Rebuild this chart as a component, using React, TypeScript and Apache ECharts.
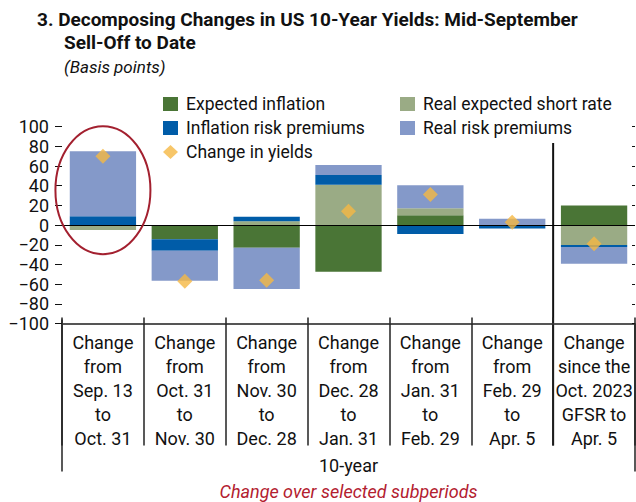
import React, { useEffect, useRef } from 'react';
import * as echarts from 'echarts';

const categories = [
  'Change\nfrom\nSep. 13\nto\nOct. 31',
  'Change\nfrom\nOct. 31\nto\nNov. 30',
  'Change\nfrom\nNov. 30\nto\nDec. 28',
  'Change\nfrom\nDec. 28\nto\nJan. 31',
  'Change\nfrom\nJan. 31\nto\nFeb. 29',
  'Change\nfrom\nFeb. 29\nto\nApr. 5',
  'Change\nsince the\nOct. 2023\nGFSR to\nApr. 5',
];

const expectedInflation = [0, -14.5, -23, -47.5, 10, 0, 20];
const realExpectedShortRate = [-5, 0, 4, 41, 7, 0, -20.3];
const inflationRiskPremiums = [9, -11.5, 4.5, 10, -9, -3.5, -2];
const realRiskPremiums = [66, -30.5, -42, 10, 23.5, 6.5, -17];
const changeInYields = [70, -57, -56, 14, 31, 3, -19];

const yMin = -100;
const yMax = 100;
const yInterval = 20;

const FONT = 'Roboto, "Liberation Sans", sans-serif';

const C_EI = '#4a7536';
const C_RESR = '#9aab85';
const C_IRP = '#005ca8';
const C_RRP = '#8499c9';
const C_DIAMOND = '#f5b843';

export default function App() {
  const ref = useRef<HTMLDivElement>(null);

  useEffect(() => {
    document.body.style.margin = '0';
    if (!ref.current) return;
    const chart = echarts.init(ref.current, undefined, { renderer: 'svg' });

    const gridLeft = 62;
    const gridRight = 1;
    const gridTop = 126.7;
    const gridBottom = 178.5;

    const minus = (v: number) => String(v).replace('-', '\u2212');

    const legendText = { fontFamily: FONT, fontSize: 17.5, color: '#111', lineHeight: 20, padding: [0, 0, 0, 3] };

    chart.setOption({
      animation: false,
      backgroundColor: '#fff',
      textStyle: { fontFamily: FONT },
      title: [
        { text: '3. Decomposing Changes in US 10-Year Yields: Mid-September', left: 37, top: 10, padding: 0, textStyle: { fontFamily: FONT, fontSize: 19, fontWeight: 'bold', color: '#111' } },
        { text: 'Sell-Off to Date', left: 64, top: 33, padding: 0, textStyle: { fontFamily: FONT, fontSize: 19, fontWeight: 'bold', color: '#111' } },
        { text: '(Basis points)', left: 64, top: 58, padding: 0, textStyle: { fontFamily: FONT, fontSize: 17, fontStyle: 'italic', fontWeight: 'normal', color: '#111' } },
      ],
      legend: [
        {
          data: [
            { name: 'Expected inflation', icon: 'rect' },
            { name: 'Inflation risk premiums', icon: 'rect' },
            { name: 'Change in yields', icon: 'diamond' },
          ],
          orient: 'vertical', left: 163, top: 94, padding: 0, itemWidth: 15, itemHeight: 14, itemGap: 4,
          textStyle: legendText, selectedMode: false,
        },
        {
          data: [
            { name: 'Real expected short rate', icon: 'rect' },
            { name: 'Real risk premiums', icon: 'rect' },
          ],
          orient: 'vertical', left: 400, top: 94, padding: 0, itemWidth: 15, itemHeight: 14, itemGap: 4,
          textStyle: legendText, selectedMode: false,
        },
      ],
      grid: { left: gridLeft, right: gridRight, top: gridTop, bottom: gridBottom, containLabel: false },
      xAxis: [
        {
          type: 'category',
          data: categories,
          position: 'bottom',
          axisLine: { show: true, onZero: false, lineStyle: { color: '#555', width: 2 } },
          axisTick: { show: true, length: 122, lineStyle: { color: '#222', width: 1.5 } },
          axisLabel: { fontFamily: FONT, fontSize: 18, color: '#111', lineHeight: 24, margin: 7, interval: 0 },
        },
        {
          type: 'category',
          data: categories,
          position: 'bottom',
          axisLine: { show: false, onZero: false },
          axisTick: { show: true, inside: true, length: 6, lineStyle: { color: '#222', width: 1.5 } },
          axisLabel: { show: false },
        },
      ],
      yAxis: [
        {
          type: 'value', min: yMin, max: yMax, interval: yInterval,
          axisLine: { show: false },
          axisTick: { show: true, length: 7, lineStyle: { color: '#111', width: 1 } },
          axisLabel: { fontFamily: FONT, fontSize: 18, lineHeight: 16, color: '#111', margin: 13, showMinLabel: true, showMaxLabel: true, hideOverlap: false, formatter: (v: number) => minus(v) },
          splitLine: { show: false },
        },
        {
          type: 'value', min: yMin, max: yMax, interval: yInterval, position: 'right',
          axisLine: { show: false },
          axisTick: { show: true, inside: true, length: 3, lineStyle: { color: '#111', width: 1 } },
          axisLabel: { show: false },
          splitLine: { show: false },
        },
      ],
      series: [
        { name: 'Expected inflation', type: 'bar', stack: 'a', data: expectedInflation, itemStyle: { color: C_EI }, barCategoryGap: '19%',
          markLine: { silent: true, symbol: 'none', label: { show: false }, lineStyle: { color: '#000', width: 1, type: 'solid' }, data: [{ yAxis: 0 }] } },
        { name: 'Real expected short rate', type: 'bar', stack: 'a', data: realExpectedShortRate, itemStyle: { color: C_RESR } },
        { name: 'Inflation risk premiums', type: 'bar', stack: 'a', data: inflationRiskPremiums, itemStyle: { color: C_IRP } },
        { name: 'Real risk premiums', type: 'bar', stack: 'a', data: realRiskPremiums, itemStyle: { color: C_RRP } },
        { name: 'Change in yields', type: 'scatter', data: changeInYields, symbol: 'diamond', symbolSize: 15, itemStyle: { color: C_DIAMOND }, z: 5 },
      ],
    });

    const px = (i: number) => chart.convertToPixel({ xAxisIndex: 0 }, i) as number;
    const py = (v: number) => chart.convertToPixel({ yAxisIndex: 0 }, v) as number;
    const x0 = px(0);
    const catW = px(1) - px(0);
    const leftX = x0 - catW / 2;
    const rightX = px(6) + catW / 2;
    const divX = (px(5) + px(6)) / 2;
    const axisY = py(yMin);
    const centerX = (leftX + rightX) / 2;

    chart.setOption({
      graphic: [
        { type: 'line', shape: { x1: leftX, y1: axisY - 4, x2: leftX, y2: axisY + 148 }, style: { stroke: '#222', lineWidth: 1.5 } },
        { type: 'line', shape: { x1: rightX, y1: axisY, x2: rightX, y2: axisY + 148 }, style: { stroke: '#222', lineWidth: 1.5 } },
        { type: 'line', shape: { x1: divX, y1: py(83.5), x2: divX, y2: axisY + 122 }, style: { stroke: '#111', lineWidth: 2 } },
        { type: 'ellipse', shape: { cx: x0, cy: py(35.5), rx: 47.5, ry: 64 }, style: { fill: 'none', stroke: '#a3202f', lineWidth: 2 }, z: 10 },
        { type: 'text', x: centerX, y: 465, style: { text: '10-year', font: `18px ${FONT}`, fill: '#111', textAlign: 'center', textVerticalAlign: 'middle' } },
        { type: 'text', x: centerX, y: 491, style: { text: 'Change over selected subperiods', font: `italic 18px ${FONT}`, fill: '#b3202f', textAlign: 'center', textVerticalAlign: 'middle' } },
      ],
    });

    return () => chart.dispose();
  }, []);

  return <div ref={ref} style={{ width: 636, height: 502 }} />;
}
